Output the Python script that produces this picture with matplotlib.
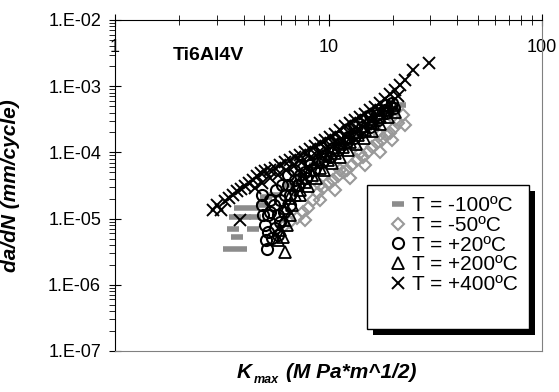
import numpy as np
import matplotlib
matplotlib.use("Agg")
import matplotlib.pyplot as plt
from matplotlib.ticker import LogLocator, FuncFormatter, NullFormatter
from matplotlib.patches import Rectangle

plt.rcParams['font.family'] = ['Liberation Sans', 'DejaVu Sans']

# Kmax (MPa*m^1/2) and da/dN (mm/cycle)
k_m100 = [3.42, 3.89, 3.73, 3.57, 4.43, 3.65, 4.06, 4.53, 3.85, 4.38, 4.88, 5.09,
          5.6, 6.6, 7.4, 8.6, 10.2, 11.9, 14.0, 16.5, 19.4, 21.6]
da_m100 = [3.5e-6, 3.5e-6, 5.3e-6, 7.0e-6, 7.0e-6, 1.06e-5, 1.06e-5, 1.06e-5, 1.45e-5,
           1.45e-5, 1.6e-5, 2.1e-5, 2.3e-5, 3.2e-5, 4.6e-5, 6.5e-5, 9.1e-5, 1.3e-4,
           1.8e-4, 2.6e-4, 4.1e-4, 5.2e-4]

k_m50 = [6.12, 6.60, 7.12, 7.60, 8.02, 8.46, 8.93, 9.42, 9.95, 10.5, 11.1, 11.7, 12.2,
         12.9, 13.6, 14.5, 15.3, 16.0, 16.9, 17.8, 18.6, 19.4, 20.3, 21.2, 22.3,
         9.1, 11.3, 14.0, 17.4, 20.5,
         7.76, 9.12, 10.7, 12.6, 14.8, 17.4, 19.8, 22.8]
da_m50 = [7.46e-6, 8.89e-6, 1.02e-5, 1.26e-5, 1.45e-5, 1.91e-5, 2.44e-5, 2.90e-5, 3.45e-5,
          3.83e-5, 4.40e-5, 5.06e-5, 5.42e-5, 6.45e-5, 7.67e-5, 8.53e-5, 1.01e-4, 1.21e-4,
          1.39e-4, 1.54e-4, 1.83e-4, 1.96e-4, 2.34e-4, 2.78e-4, 3.67e-4,
          3.2e-5, 5.4e-5, 9.8e-5, 1.83e-4, 3.1e-4,
          9.53e-6, 1.91e-5, 2.70e-5, 4.10e-5, 6.45e-5, 1.01e-4, 1.54e-4, 2.59e-4]

k_p20 = [5.15, 4.88, 4.93, 5.04, 5.21, 5.44, 5.61, 5.32, 5.80, 5.93, 6.25, 6.60, 6.46,
         6.97, 7.36, 7.76, 8.19, 8.93, 9.63, 10.5, 11.3, 12.3, 13.3, 14.3, 15.6, 16.9,
         18.4, 19.8,
         5.09, 4.88, 5.32, 5.68, 6.06, 6.46, 6.89, 7.36, 7.93, 8.55, 9.32, 10.2, 11.1,
         12.1, 13.2, 14.3, 15.6, 17.1, 18.6,
         7.19, 7.85, 8.55, 9.32, 10.2, 11.1, 12.1, 13.2, 14.3, 15.6, 17.1, 18.6, 20.3,
         5.21, 5.55, 5.93, 6.19, 5.80, 6.60]
da_p20 = [3.47e-6, 1.60e-5, 1.13e-5, 8.0e-6, 6.28e-6, 5.09e-6, 7.21e-6, 1.26e-5, 1.13e-5,
          1.91e-5, 2.27e-5, 1.60e-5, 3.22e-5, 3.83e-5, 4.56e-5, 5.06e-5, 6.45e-5, 7.67e-5,
          9.14e-5, 1.17e-4, 1.39e-4, 1.71e-4, 1.96e-4, 2.42e-4, 2.88e-4, 3.67e-4, 4.37e-4,
          5.57e-4,
          4.75e-6, 2.27e-5, 1.91e-5, 2.70e-5, 3.22e-5, 4.56e-5, 5.42e-5, 6.45e-5, 7.67e-5,
          9.79e-5, 1.17e-4, 1.44e-4, 1.71e-4, 2.18e-4, 2.59e-4, 3.08e-4, 3.67e-4, 4.37e-4,
          5.20e-4,
          3.22e-5, 4.10e-5, 5.42e-5, 7.16e-5, 8.53e-5, 1.09e-4, 1.39e-4, 1.65e-4, 2.03e-4,
          2.42e-4, 3.08e-4, 3.94e-4, 4.69e-4,
          1.13e-5, 1.60e-5, 8.89e-6, 1.26e-5, 5.65e-6, 2.27e-5]

k_p200 = [6.25, 6.12, 5.93, 6.39, 6.60, 6.75, 6.97, 7.36, 7.76, 8.37, 9.12, 9.95, 10.7,
          11.7, 12.6, 13.7, 14.8, 16.2, 17.4, 18.8, 20.0,
          5.80, 6.19, 6.32, 6.53, 7.04, 7.51, 8.19, 8.83, 9.63, 10.5, 11.3, 12.3, 13.4,
          14.7, 16.0, 17.4, 19.0,
          7.36, 8.02, 8.74, 9.52, 10.4, 11.3, 12.3, 13.4, 14.7, 16.0, 17.4, 19.0, 20.5]
da_p200 = [3.13e-6, 5.27e-6, 6.73e-6, 8.0e-6, 1.13e-5, 1.60e-5, 2.27e-5, 2.70e-5, 3.57e-5,
           4.56e-5, 5.81e-5, 7.67e-5, 9.79e-5, 1.21e-4, 1.44e-4, 1.83e-4, 2.18e-4, 2.78e-4,
           3.43e-4, 4.37e-4, 5.20e-4,
           4.75e-6, 9.53e-6, 1.45e-5, 2.05e-5, 3.22e-5, 4.10e-5, 5.42e-5, 7.16e-5, 8.83e-5,
           1.09e-4, 1.34e-4, 1.65e-4, 2.03e-4, 2.51e-4, 3.20e-4, 3.94e-4, 4.85e-4,
           2.27e-5, 3.11e-5, 4.10e-5, 5.42e-5, 6.92e-5, 8.53e-5, 1.09e-4, 1.34e-4, 1.65e-4,
           2.10e-4, 2.68e-4, 3.43e-4, 4.07e-4]

k_p400 = [2.88, 3.00, 3.14, 3.27, 3.42, 3.57, 3.73, 3.89, 4.06, 4.24, 4.43, 4.62, 4.83,
          5.04, 5.32, 5.61, 5.93, 6.25, 6.60, 6.97, 7.36, 7.76, 8.19, 8.65, 9.12, 9.63,
          10.2, 10.7, 11.3, 11.9, 12.6, 13.3, 14.0, 14.8, 15.6, 16.5, 17.4, 18.4, 19.4,
          20.5, 21.6, 22.8, 24.9, 29.6, 3.85,
          4.53, 4.88, 5.32, 5.80, 6.32, 6.89, 7.51, 8.19, 8.93, 9.73, 10.6, 11.6, 12.6,
          13.7, 15.0, 16.3, 17.8, 19.4, 21.2]
da_p400 = [1.35e-5, 1.60e-5, 1.35e-5, 1.85e-5, 2.05e-5, 2.27e-5, 2.61e-5, 2.80e-5, 3.11e-5,
           3.45e-5, 3.83e-5, 4.40e-5, 4.89e-5, 5.24e-5, 5.42e-5, 5.81e-5, 6.45e-5, 7.16e-5,
           7.67e-5, 8.53e-5, 9.14e-5, 1.01e-4, 1.13e-4, 1.25e-4, 1.39e-4, 1.54e-4, 1.71e-4,
           1.90e-4, 2.18e-4, 2.51e-4, 2.78e-4, 3.08e-4, 3.43e-4, 3.80e-4, 4.37e-4, 4.85e-4,
           5.57e-4, 6.41e-4, 7.62e-4, 8.77e-4, 1.04e-3, 1.24e-3, 1.76e-3, 2.24e-3, 9.5e-6,
           2.90e-5, 3.45e-5, 4.10e-5, 4.56e-5, 5.42e-5, 6.23e-5, 7.16e-5, 8.23e-5, 9.79e-5,
           1.13e-4, 1.34e-4, 1.59e-4, 1.90e-4, 2.25e-4, 2.68e-4, 3.31e-4, 4.07e-4, 5.38e-4,
           7.11e-4]

labels = ["T = -100ºC", "T = -50ºC", "T = +20ºC", "T = +200ºC", "T = +400ºC"]

fig = plt.figure(figsize=(5.59, 3.92), dpi=100)
ax = fig.add_axes([0.2057, 0.1046, 0.764, 0.8444])

ax.plot(k_m100, da_m100, ls='none', marker='_', color='#8c8c8c', ms=9, mew=4, label=labels[0])
ax.plot(k_m50, da_m50, ls='none', marker='D', mfc='none', mec='#999999', ms=6, mew=1.5, label=labels[1])
ax.plot(k_p20, da_p20, ls='none', marker='o', mfc='none', mec='black', ms=8, mew=1.5, label=labels[2])
ax.plot(k_p200, da_p200, ls='none', marker='^', mfc='none', mec='black', ms=8, mew=1.3, label=labels[3])
ax.plot(k_p400, da_p400, ls='none', marker='x', color='black', ms=9, mew=1.4, label=labels[4])

ax.set_xscale('log')
ax.set_yscale('log')
ax.set_xlim(1, 100)
ax.set_ylim(1e-7, 1e-2)

for s in ['top', 'left']:
    ax.spines[s].set_color('black')
for s in ['bottom', 'right']:
    ax.spines[s].set_color('#808080')

ax.xaxis.set_major_locator(LogLocator(base=10))
ax.xaxis.set_minor_locator(LogLocator(base=10, subs=np.arange(2, 10)))
ax.xaxis.set_minor_formatter(NullFormatter())
ax.xaxis.set_major_formatter(FuncFormatter(lambda v, p: f"{v:g}"))
ax.tick_params(axis='x', which='both', top=True, bottom=False, labeltop=True,
               labelbottom=False, direction='inout', labelsize=13, pad=-30)
ax.tick_params(axis='x', which='major', length=8)
ax.tick_params(axis='x', which='minor', length=7)

ax.yaxis.set_major_locator(LogLocator(base=10))
ax.yaxis.set_minor_locator(LogLocator(base=10, subs=np.arange(2, 10)))
ax.yaxis.set_minor_formatter(NullFormatter())
ax.yaxis.set_major_formatter(FuncFormatter(lambda v, p: f"1.E{int(round(np.log10(v))):03d}"))
ax.tick_params(axis='y', which='major', direction='inout', length=8, labelsize=13, pad=6)
ax.tick_params(axis='y', which='minor', direction='out', length=4)

ax.text(0.136, 0.894, "Ti6Al4V", transform=ax.transAxes, fontsize=14,
        fontweight='bold', va='center', ha='left')

ax.set_ylabel("da/dN (mm/cycle)", fontsize=15, fontweight='bold', fontstyle='italic')
ax.yaxis.set_label_coords(-0.222, 0.5)

# x label: K with subscript "max"
t1 = fig.text(0.424, 0.036, "K", fontsize=15, fontweight='bold', fontstyle='italic')
t2 = ax.annotate("max", xy=(1, 0), xycoords=t1, xytext=(1, -3), textcoords='offset points',
                 fontsize=9, fontweight='bold', fontstyle='italic', va='bottom',
                 annotation_clip=False)
t3 = ax.annotate("(M Pa*m^1/2)", xy=(1, 0), xycoords=t2, xytext=(5, 3),
                 textcoords='offset points', fontsize=15, fontweight='bold',
                 fontstyle='italic', va='bottom', annotation_clip=False)

# legend entries without frame; Excel-like box and shadow drawn separately
leg = ax.legend(loc='upper left', bbox_to_anchor=(0.6136, 0.5015), borderaxespad=0,
                frameon=False, fontsize=15, handlelength=0.9, handletextpad=0.25,
                labelspacing=0.03, borderpad=0.55)
leg.set_zorder(5)

box_x0, box_x1 = 0.590, 0.9696
box_y0, box_y1 = 0.0665, 0.5015
dx = 6 / 427
dy = 6 / 331
ax.add_patch(Rectangle((box_x0 + dx, box_y0 - dy), box_x1 - box_x0, box_y1 - box_y0,
                       transform=ax.transAxes, facecolor='black', edgecolor='none',
                       zorder=4.7, clip_on=False))
ax.add_patch(Rectangle((box_x0, box_y0), box_x1 - box_x0, box_y1 - box_y0,
                       transform=ax.transAxes, facecolor='white', edgecolor='black',
                       linewidth=1.0, zorder=4.8, clip_on=False))

plt.savefig("out.png", dpi=100)
